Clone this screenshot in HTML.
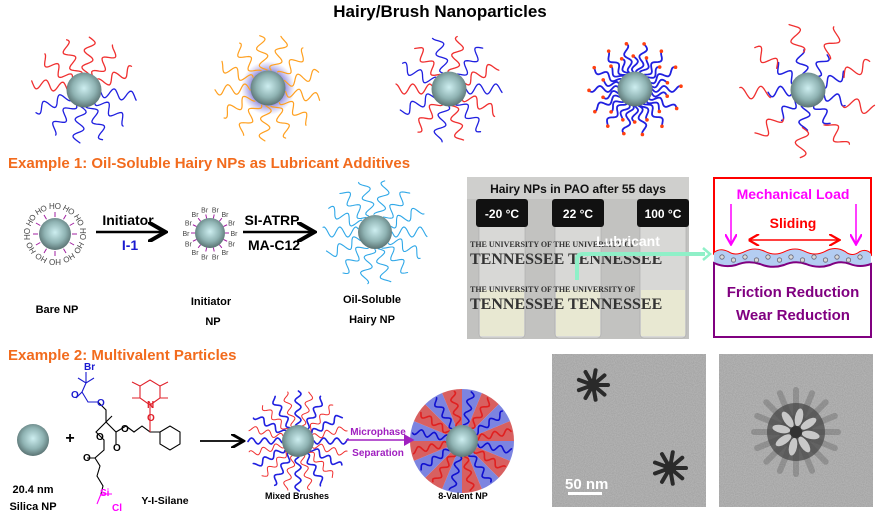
<!DOCTYPE html>
<html><head><meta charset="utf-8">
<style>
html,body{margin:0;padding:0;background:#fff;}
body{width:880px;height:514px;overflow:hidden;position:relative;font-family:"Liberation Sans",sans-serif;}
svg{position:absolute;left:0;top:0;}
.t{font-family:"Liberation Sans",sans-serif;font-weight:bold;}
</style></head>
<body>
<svg id="s" width="880" height="514" viewBox="0 0 880 514" xmlns="http://www.w3.org/2000/svg">
<defs>
<radialGradient id="core" cx="0.5" cy="0.45" r="0.6">
<stop offset="0" stop-color="#cdeef0"/><stop offset="0.55" stop-color="#8fb3b3"/><stop offset="1" stop-color="#4e6464"/>
</radialGradient>
<radialGradient id="halo"><stop offset="0.5" stop-color="#5a4fc8" stop-opacity="0.9"/><stop offset="1" stop-color="#8a80e0" stop-opacity="0"/></radialGradient>
<filter id="noise" x="0" y="0" width="100%" height="100%">
<feTurbulence type="fractalNoise" baseFrequency="0.9" numOctaves="2" seed="3"/>
<feColorMatrix type="matrix" values="0 0 0 0 0.45  0 0 0 0 0.45  0 0 0 0 0.45  0 0 0 2.2 -0.6"/>
</filter>
<marker id="ah" markerWidth="8" markerHeight="8" refX="6" refY="4" orient="auto"><path d="M0,0 L7,4 L0,8" fill="none" stroke="#000" stroke-width="1.6"/></marker>
<marker id="ahp" markerWidth="8" markerHeight="8" refX="6" refY="4" orient="auto"><path d="M0,0 L7,4 L0,8 z" fill="#a020c0"/></marker>
<marker id="ahm" markerWidth="8" markerHeight="8" refX="6" refY="4" orient="auto"><path d="M0,0 L7,4 L0,8" fill="none" stroke="#ff00ff" stroke-width="1.5"/></marker>
<marker id="ahr" markerWidth="8" markerHeight="8" refX="6" refY="4" orient="auto"><path d="M0,0 L7,4 L0,8" fill="none" stroke="#f00" stroke-width="1.5"/></marker>
<marker id="ahrs" markerWidth="8" markerHeight="8" refX="1" refY="4" orient="auto"><path d="M7,0 L0,4 L7,8" fill="none" stroke="#f00" stroke-width="1.5"/></marker>
</defs>
<text x="440" y="17" text-anchor="middle" class="t" font-size="17">Hairy/Brush Nanoparticles</text>
<g id="hairs"></g>
<text x="8" y="168" class="t" font-size="15" fill="#f26b1d">Example 1: Oil-Soluble Hairy NPs as Lubricant Additives</text>
<text x="8" y="360" class="t" font-size="15" fill="#f26b1d">Example 2: Multivalent Particles</text>
<line x1="96" y1="232" x2="163" y2="232" stroke="#000" stroke-width="2.5" marker-end="url(#ah)"/>
<text x="128" y="225" text-anchor="middle" class="t" font-size="14">Initiator</text>
<text x="130" y="250" text-anchor="middle" class="t" font-size="14" fill="#1a1ad0">I-1</text>
<line x1="243" y1="232" x2="312" y2="232" stroke="#000" stroke-width="2.5" marker-end="url(#ah)"/>
<text x="272" y="225" text-anchor="middle" class="t" font-size="14">SI-ATRP</text>
<text x="274" y="250" text-anchor="middle" class="t" font-size="14">MA-C12</text>
<text x="57" y="313" text-anchor="middle" class="t" font-size="11">Bare NP</text>
<text x="211" y="305" text-anchor="middle" class="t" font-size="11">Initiator</text>
<text x="213" y="325" text-anchor="middle" class="t" font-size="11">NP</text>
<text x="372" y="303" text-anchor="middle" class="t" font-size="11">Oil-Soluble</text>
<text x="372" y="323" text-anchor="middle" class="t" font-size="11">Hairy NP</text>
<!-- photo -->
<rect x="467" y="177" width="222" height="162" fill="#c2c2c0"/>
<rect x="467" y="177" width="222" height="22" fill="#cfcfcd"/>
<text x="578" y="193" text-anchor="middle" class="t" font-size="12" fill="#111">Hairy NPs in PAO after 55 days</text>
<g fill="#d8d8d6" stroke="#aaa" stroke-width="0.6">
<rect x="479" y="222" width="46" height="116" rx="4"/><rect x="555" y="222" width="46" height="116" rx="4"/><rect x="640" y="222" width="46" height="116" rx="4"/>
</g>
<g fill="#e8e8d2"><rect x="480" y="290" width="44" height="46"/><rect x="556" y="290" width="44" height="46"/><rect x="641" y="290" width="44" height="46"/></g>
<g fill="#111"><rect x="476" y="199" width="52" height="28" rx="3"/><rect x="552" y="199" width="52" height="28" rx="3"/><rect x="637" y="199" width="52" height="28" rx="3"/></g>
<g class="t" font-size="12" fill="#fff" text-anchor="middle"><text x="502" y="218">-20 °C</text><text x="578" y="218">22 °C</text><text x="663" y="218">100 °C</text></g>
<g font-family="Liberation Serif,serif" font-size="8" fill="#333" font-weight="bold">
<text x="470" y="247">THE UNIVERSITY OF   THE UNIVERSITY OF</text><text x="470" y="264" font-size="16">TENNESSEE TENNESSEE</text>
<text x="470" y="292">THE UNIVERSITY OF   THE UNIVERSITY OF</text><text x="470" y="309" font-size="16">TENNESSEE TENNESSEE</text></g>
<text x="628" y="246" text-anchor="middle" class="t" font-size="14" fill="#fff">Lubricant</text>
<path d="M577,280 L577,260 Q577,254 583,254 L705,254" fill="none" stroke="#8ff0c8" stroke-width="4"/>
<path d="M703,248 L710,254 L703,260" fill="none" stroke="#8ff0c8" stroke-width="2.5"/>
<!-- lubrication box -->
<path d="M714,178 L871,178 L871,254 Q866,249 860,252 Q852,258 845,252 Q835,246 825,252 Q815,257 805,252 Q795,247 785,252 Q775,257 765,252 Q755,247 745,252 Q735,257 728,252 Q720,248 714,253 Z" fill="#fff" stroke="#f00" stroke-width="2"/>
<path d="M714,253 Q720,248 728,252 Q735,257 745,252 Q755,247 765,252 Q775,257 785,252 Q795,247 805,252 Q815,257 825,252 Q835,246 845,252 Q852,258 860,252 Q866,249 871,254 L871,264 Q860,268 850,264 Q840,260 830,265 Q818,269 806,264 Q795,260 784,265 Q772,269 760,264 Q748,260 736,265 Q725,268 714,263 Z" fill="#b4cdf2"/>
<path d="M714,263 Q725,268 736,265 Q748,260 760,264 Q772,269 784,265 Q795,260 806,264 Q818,269 830,265 Q840,260 850,264 Q860,268 871,264 L871,337 L714,337 Z" fill="#fff" stroke="#800080" stroke-width="2"/>
<g id="dots" fill="#d8d8d8" stroke="#667" stroke-width="0.8"></g>
<text x="793" y="199" text-anchor="middle" class="t" font-size="14" fill="#ff00ff">Mechanical Load</text>
<text x="793" y="228" text-anchor="middle" class="t" font-size="14" fill="#f00">Sliding</text>
<line x1="731" y1="204" x2="731" y2="243" stroke="#ff00ff" stroke-width="1.5" marker-end="url(#ahm)"/>
<line x1="856" y1="204" x2="856" y2="243" stroke="#ff00ff" stroke-width="1.5" marker-end="url(#ahm)"/>
<line x1="750" y1="240" x2="838" y2="240" stroke="#f00" stroke-width="1.5" marker-end="url(#ahr)" marker-start="url(#ahrs)"/>
<text x="793" y="297" text-anchor="middle" class="t" font-size="15" fill="#800080">Friction Reduction</text>
<text x="793" y="320" text-anchor="middle" class="t" font-size="15" fill="#800080">Wear Reduction</text>
<!-- Example 2 -->
<text x="70" y="443" text-anchor="middle" class="t" font-size="16">+</text>
<text x="33" y="493" text-anchor="middle" class="t" font-size="11">20.4 nm</text>
<text x="33" y="510" text-anchor="middle" class="t" font-size="11">Silica NP</text>
<text x="165" y="504" text-anchor="middle" class="t" font-size="10.5">Y-I-Silane</text>
<g fill="none" stroke-width="1.1">
<path d="M78,378 L86,383 L94,378 M86,383 L86,372 M86,383 L82,392 L76,398 M82,392 L88,402 L98,402" stroke="#1a1ad0"/>
<path d="M98,402 L106,410 L106,422 L96,432 L104,440 L104,450 L95,458 L100,466 L97,476 L103,486 L101,494 M106,422 L116,432 L126,426 M116,432 L116,444 M126,426 L134,432 L142,426 L150,432 L160,432 M106,422 L112,416 M95,458 L87,458" stroke="#000"/>
<path d="M101,494 L112,494 M101,494 L97,504" stroke="#ff00ff"/>
<path d="M150,432 L150,418 L150,405 L140,398 L140,386 L150,380 L160,386 L160,398 L150,405 M140,398 L132,398 M140,386 L132,382 M160,398 L168,398 M160,386 L168,382" stroke="#e0202a"/>
<path d="M160,432 L170,426 L180,432 L180,444 L170,450 L160,444 Z" stroke="#000"/>
</g>
<g font-size="10" class="t"><text x="84" y="370" fill="#1a1ad0">Br</text><text x="71" y="398" fill="#1a1ad0">O</text><text x="97" y="406" fill="#1a1ad0">O</text><text x="147" y="408" fill="#e0202a">N</text><text x="147" y="421" fill="#e0202a">O</text><text x="121" y="432" fill="#000">O</text><text x="113" y="451">O</text><text x="96" y="440">O</text><text x="83" y="461">O</text><text x="100" y="496" fill="#ff00ff">Si</text><text x="112" y="511" fill="#ff00ff">Cl</text></g>
<line x1="200" y1="441" x2="242" y2="441" stroke="#000" stroke-width="1.8" marker-end="url(#ah)"/>
<line x1="346" y1="440" x2="413" y2="440" stroke="#a020c0" stroke-width="1.5" marker-end="url(#ahp)"/>
<text x="378" y="435" text-anchor="middle" class="t" font-size="10" fill="#a020c0">Microphase</text>
<text x="378" y="456" text-anchor="middle" class="t" font-size="10" fill="#a020c0">Separation</text>
<text x="297" y="499" text-anchor="middle" class="t" font-size="9">Mixed Brushes</text>
<text x="463" y="499" text-anchor="middle" class="t" font-size="9">8-Valent NP</text>
<!-- TEM -->
<rect x="552" y="354" width="154" height="153" fill="#a5a5a5"/>
<rect x="552" y="354" width="154" height="153" filter="url(#noise)"/>
<rect x="719" y="354" width="154" height="153" fill="#a5a5a5"/>
<rect x="719" y="354" width="154" height="153" filter="url(#noise)"/>
<g id="tem"></g>
<text x="565" y="489" class="t" font-size="15" fill="#fff">50 nm</text>
<rect x="568" y="492" width="34" height="3" fill="#fff"/>
</svg>
<script>
var NS="http://www.w3.org/2000/svg",H=document.getElementById('hairs');
function el(n,a,p){var e=document.createElementNS(NS,n);for(var k in a)e.setAttribute(k,a[k]);(p||H).appendChild(e);return e;}
function hair(cx,cy,ang,r0,r1,col,w,amp,wl,ph){var d="",n=Math.ceil((r1-r0)/1.2);var c=Math.cos(ang),s=Math.sin(ang);var x,y;
for(var i=0;i<=n;i++){var r=r0+(r1-r0)*i/n;var o=amp*Math.sin(2*Math.PI*(r-r0)/wl+ph);x=cx+c*r-s*o;y=cy+s*r+c*o;d+=(i?"L":"M")+x.toFixed(1)+","+y.toFixed(1);}
el('path',{d:d,fill:'none',stroke:col,'stroke-width':w,'stroke-linecap':'round'});return [x,y];}
function core(cx,cy,r){el('circle',{cx:cx,cy:cy,r:r,fill:'url(#core)'});}
var R="#f03030",B="#2020e0",O="#ffa020";
for(var i=0;i<12;i++){var a=i/12*2*Math.PI+0.13;hair(84,90,a,17,53,Math.sin(a)<0?R:B,1.3,5,17,i);}
core(84,90,17.5);
el('circle',{cx:268,cy:88,r:27,fill:'url(#halo)'});
for(i=0;i<13;i++){a=i/13*2*Math.PI+0.2;hair(268,88,a,18,53,O,1.2,5,17,i);}
core(268,88,17.5);
for(i=0;i<14;i++){a=i/14*2*Math.PI;hair(449,89,a,17,53,i%2?R:B,1.3,5,17,i);}
core(449,89,17.5);
for(i=0;i<14;i++){a=i/14*2*Math.PI;var p=hair(635,89,a,17,46,B,1.8,3,16,i);el('circle',{cx:p[0],cy:p[1],r:1.8,fill:'#ff4010'});
var q=hair(635,89,a+0.22,17,33,B,1.8,3,16,i);el('circle',{cx:q[0],cy:q[1],r:1.8,fill:'#ff4010'});}
core(635,89,17.5);
for(i=0;i<9;i++){a=i/9*2*Math.PI+0.3;hair(808,90,a,17,40,B,1.5,5,17,i);hair(808,90,a,38,68,R,1.3,6,20,i+1);}
core(808,90,17.5);
for(i=0;i<12;i++){a=i/12*2*Math.PI;var c=Math.cos(a),s=Math.sin(a);
el('line',{x1:55+c*17,y1:234+s*17,x2:55+c*22,y2:234+s*22,stroke:'#a020a0','stroke-width':1});
var t=el('text',{x:55+c*28,y:234+s*28+3,'text-anchor':'middle','font-size':8,fill:'#444','font-family':'Liberation Sans,sans-serif',transform:'rotate('+(a*180/Math.PI+90)+' '+(55+c*28)+' '+(234+s*28)+')'});t.textContent="HO";}
core(55,234,16);
for(i=0;i<14;i++){a=i/14*2*Math.PI;c=Math.cos(a);s=Math.sin(a);
el('line',{x1:210+c*15,y1:233+s*15,x2:210+c*19,y2:233+s*19,stroke:'#a020a0','stroke-width':1});
t=el('text',{x:210+c*24,y:233+s*24+3,'text-anchor':'middle','font-size':7,fill:'#444','font-family':'Liberation Sans,sans-serif'});t.textContent="Br";}
core(210,233,15);
for(i=0;i<14;i++){a=i/14*2*Math.PI;hair(375,232,a,17,52,'#30a8e8',1.1,5,16,i);}
core(375,232,17);
core(33,440,16);
for(i=0;i<24;i++){a=i/24*2*Math.PI;hair(298,441,a,16,50,i%2?R:B,i%2?1:1.6,3,13,i);}
core(298,441,16);
for(i=0;i<16;i++){var a0=i/16*2*Math.PI,a1=(i+1)/16*2*Math.PI;
el('path',{d:'M'+(462+16*Math.cos(a0))+','+(441+16*Math.sin(a0))+'L'+(462+52*Math.cos(a0))+','+(441+52*Math.sin(a0))+'A52,52 0 0 1 '+(462+52*Math.cos(a1))+','+(441+52*Math.sin(a1))+'L'+(462+16*Math.cos(a1))+','+(441+16*Math.sin(a1))+'Z',fill:i%2?'#d86060':'#7c84e0'});}
for(i=0;i<16;i++){a=(i+0.5)/16*2*Math.PI;hair(462,441,a,16,50,i%2?'#e02020':'#1010d0',1.6,3,13,i);}
core(462,441,16);
var D=document.getElementById('dots');
for(i=0;i<13;i++){el('circle',{cx:722+i*11.5,cy:258+(i%2?2:-1),r:2.2},D);}
var T=document.getElementById('tem');
function star(cx,cy,r,n,col,w){for(var k=0;k<n;k++){var a=k/n*2*Math.PI;el('line',{x1:cx,y1:cy,x2:cx+r*Math.cos(a),y2:cy+r*Math.sin(a),stroke:col,'stroke-width':w||4,'stroke-linecap':'round'},T);}
el('circle',{cx:cx,cy:cy,r:r*0.4,fill:col},T);}
star(593,385,15,9,'#2a2a2a');star(670,468,16,9,'#2a2a2a');
star(796,432,42,16,'rgba(60,60,60,0.25)',6);
el('circle',{cx:796,cy:432,r:29,fill:'#4a4a4a','fill-opacity':0.75},T);
for(i=0;i<8;i++){a=i/8*2*Math.PI+0.2;el('ellipse',{cx:796+15*Math.cos(a),cy:432+15*Math.sin(a),rx:9,ry:4,fill:'#c8c8c8',transform:'rotate('+(a*180/Math.PI)+' '+(796+15*Math.cos(a))+' '+(432+15*Math.sin(a))+')'},T);}
el('circle',{cx:796,cy:432,r:6,fill:'#333'},T);
</script>
</body></html>
